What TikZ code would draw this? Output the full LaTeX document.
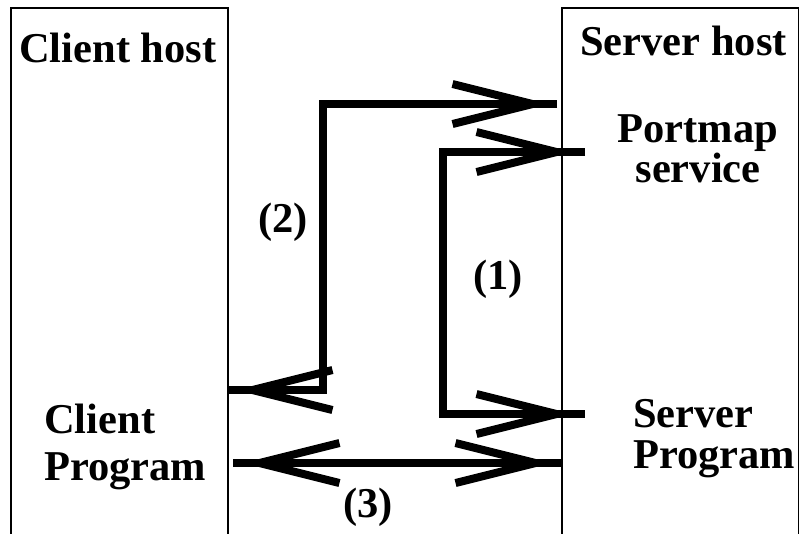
\documentclass[tikz,border=0pt]{standalone}
\usepackage{fontspec}
\setmainfont{Liberation Serif}
\usetikzlibrary{arrows.meta}
\tikzset{
  hostline/.style={line width=1.5pt, line join=miter},
  lbl/.style={inner sep=0pt, font=\fontsize{42.5}{40}\selectfont\bfseries},
  tipv/.tip={Straight Barb[sharp, length=80pt, width=40pt]},
  % thick call line: full stroke, then the same path drawn shortened with open tips
  flow/.style={line width=8pt, line join=miter, draw,
    postaction={draw, arrows={tipv-tipv}, shorten <=#1, shorten >=#1}},
  flow/.default=12pt
}
\begin{document}
\begin{tikzpicture}[x=1pt, y=-1pt]
\useasboundingbox (0,0) rectangle (800,533);

% host frames (open at the bottom of the page)
\draw[hostline] (11,545) -- (11,8) -- (228,8) -- (228,545);
\draw[hostline] (562,545) -- (562,8) -- (798.5,8) -- (798.5,545);

% labels (multi-line nodes are placed by the baseline of their last line)
\node[lbl, anchor=base west] (chost) at (19,62) {Client host};
\node[lbl, anchor=base west] (shost) at (580,55) {Server host};
\node[lbl, anchor=base, align=center] (pmap) at (698,182) {Portmap\\service};
\node[lbl, anchor=base west, align=left, font=\fontsize{42.5}{47}\selectfont\bfseries] (cprog) at (44,480) {Client\\Program};
\node[lbl, anchor=base west, align=left, font=\fontsize{42.5}{41}\selectfont\bfseries] (sprog) at (633,468) {Server\\Program};
\node[lbl, anchor=base west] (n2) at (258,232) {(2)};
\node[lbl, anchor=base west] (n1) at (473,289) {(1)};
\node[lbl, anchor=base west] (n3) at (343,517) {(3)};

% connector end points
\coordinate (pmapin2) at (557,104);
\coordinate (k2a) at (323,104);
\coordinate (k2b) at (323,390);
\coordinate (cprogin) at (228,390);

\coordinate (pmapin1) at (585,152);
\coordinate (k1a) at (443,152);
\coordinate (k1b) at (443,414);
\coordinate (sprogin1) at (585,414);

\coordinate (cprogout) at (233,463);
\coordinate (sprogin3) at (562,463);

% (2) client asks portmapper, gets the port back
\path[flow=8pt] (pmapin2) -- (k2a) -- (k2b) -- (cprogin);
% (1) server registers its port with portmapper
\path[flow] (pmapin1) -- (k1a) -- (k1b) -- (sprogin1);
% (3) client and server talk directly
\path[flow=10pt] (cprogout) -- (sprogin3);
\end{tikzpicture}
\end{document}
